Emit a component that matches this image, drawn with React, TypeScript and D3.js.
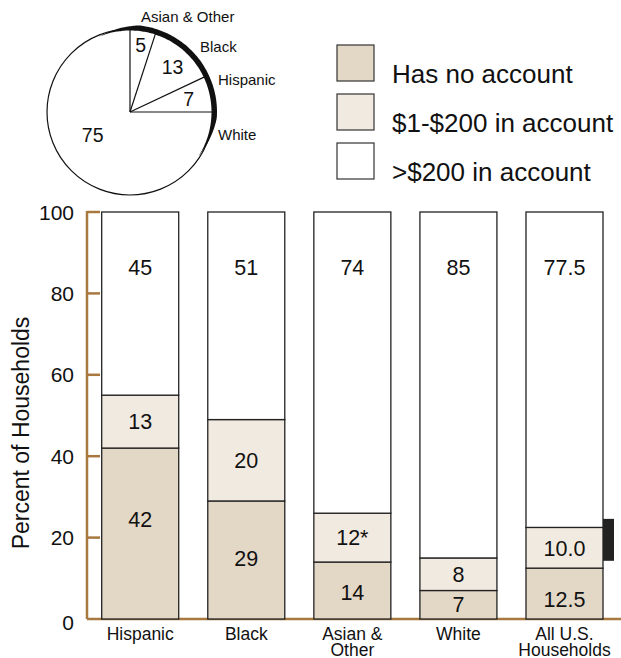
import * as d3 from "d3";
import { useEffect, useRef } from "react";

// bar chart data
const groups = ["Hispanic", "Black", "Asian & Other", "White", "All U.S. Households"];
const groupLines = [["Hispanic"], ["Black"], ["Asian &", "Other"], ["White"], ["All U.S.", "Households"]];
const noAccount = [42, 29, 14, 7, 12.5];
const lowBalance = [13, 20, 12, 8, 10.0];
const highBalance = [45, 51, 74, 85, 77.5];
const noAccountText = ["42", "29", "14", "7", "12.5"];
const lowBalanceText = ["13", "20", "12*", "8", "10.0"];
const highBalanceText = ["45", "51", "74", "85", "77.5"];
const noAccountLabelAt = [24.5, 15, 6.5, 3.5, 4.8];
const highLabelAt = 86.5;
const yTicks = [0, 20, 40, 60, 80, 100];
const allUsRange = [14.3, 24.6];

const seriesKeys = ["none", "low", "high"];
const seriesNames = ["Has no account", "$1-$200 in account", ">$200 in account"];
const seriesColors = ["#e3d7c6", "#f1eae0", "#ffffff"];

// pie data
const pieGroups = ["Asian & Other", "Black", "Hispanic", "White"];
const pieShares = [5, 13, 7, 75];

const W = 621;
const H = 658;
const FONT = "'Liberation Sans', Arial, Helvetica, sans-serif";
const BROWN = "#a8783f";

export default function App() {
  const svgRef = useRef<SVGSVGElement | null>(null);

  useEffect(() => {
    const svg = d3.select(svgRef.current);
    svg.selectAll("*").remove();
    svg.style("font-family", FONT);

    // ---------- pie ----------
    const cx = 130;
    const cy = 112;
    const r = 83;
    const pg = svg.append("g").attr("transform", `translate(${cx},${cy})`);

    const pie = d3.pie<number>().sort(null).value((d) => d);
    const arcs = pie(pieShares);

    // shadow crescent on the upper right
    const a0 = (-22 * Math.PI) / 180;
    const a1 = (122 * Math.PI) / 180;
    const ramp = (28 * Math.PI) / 180;
    const angles = d3.range(a0, a1 + 0.001, (a1 - a0) / 80);
    const thick = (a: number) => 5.5 * Math.min(1, (a - a0) / ramp, (a1 - a) / ramp);
    const crescent = d3
      .areaRadial<number>()
      .angle((a) => a)
      .innerRadius(r - 1.5)
      .outerRadius((a) => r - 1.5 + Math.max(0.3, thick(a)))
      .curve(d3.curveCatmullRom);

    pg.append("circle").attr("r", r).attr("fill", "#fff").attr("stroke", "#111").attr("stroke-width", 1.2);
    pg.append("path").attr("d", crescent(angles)).attr("fill", "#111");

    pg.selectAll("line.spoke")
      .data(arcs)
      .join("line")
      .attr("class", "spoke")
      .attr("x1", 0)
      .attr("y1", 0)
      .attr("x2", (d) => r * Math.sin(d.startAngle))
      .attr("y2", (d) => -r * Math.cos(d.startAngle))
      .attr("stroke", "#111")
      .attr("stroke-width", 1.2);

    // [radius, angle offset in degrees] for the numbers inside slices
    const innerPlace = [[68, 0], [62, 2], [60, 0], [44, 13]];
    pg.selectAll("text.share")
      .data(arcs)
      .join("text")
      .attr("class", "share")
      .attr("text-anchor", "middle")
      .attr("dy", "0.36em")
      .attr("font-size", 19.5)
      .attr("fill", "#111")
      .attr("x", (d, i) => {
        const a = (d.startAngle + d.endAngle) / 2 + (innerPlace[i][1] * Math.PI) / 180;
        return innerPlace[i][0] * Math.sin(a);
      })
      .attr("y", (d, i) => {
        const a = (d.startAngle + d.endAngle) / 2 + (innerPlace[i][1] * Math.PI) / 180;
        return -innerPlace[i][0] * Math.cos(a);
      })
      .text((d) => String(d.data));

    const outerPlace = [[11, -90], [70, -60], [88, -27], [88, 28]];
    pg.selectAll("text.group")
      .data(pieGroups)
      .join("text")
      .attr("class", "group")
      .attr("font-size", 15)
      .attr("fill", "#111")
      .attr("x", (d, i) => outerPlace[i][0])
      .attr("y", (d, i) => outerPlace[i][1])
      .text((d) => d);

    // ---------- legend ----------
    const lg = svg.append("g").attr("transform", "translate(337,45)");
    const item = lg
      .selectAll("g")
      .data(seriesNames)
      .join("g")
      .attr("transform", (d, i) => `translate(0,${i * 49})`);
    item
      .append("rect")
      .attr("width", 37)
      .attr("height", 36)
      .attr("fill", (d, i) => seriesColors[i])
      .attr("stroke", "#333")
      .attr("stroke-width", 1.2);
    item
      .append("text")
      .attr("x", 55)
      .attr("y", 38)
      .attr("font-size", 26)
      .attr("fill", "#111")
      .text((d) => d);

    // ---------- bars ----------
    const x = d3.scaleBand<string>().domain(groups).range([101.7, 603]).paddingInner(0.274).paddingOuter(0);
    const y = d3.scaleLinear().domain([0, 100]).range([619, 212]);

    const rows = groups.map((g, i) => ({
      group: g,
      none: noAccount[i],
      low: lowBalance[i],
      high: highBalance[i],
    }));
    const stacked = d3.stack<any>().keys(seriesKeys)(rows);

    // axis
    const ax = svg.append("g");
    ax.append("line")
      .attr("x1", 87)
      .attr("x2", W)
      .attr("y1", y(0))
      .attr("y2", y(0))
      .attr("stroke", BROWN)
      .attr("stroke-width", 2.5);
    ax.append("line")
      .attr("x1", 87)
      .attr("x2", 87)
      .attr("y1", y(100) - 1)
      .attr("y2", y(0))
      .attr("stroke", BROWN)
      .attr("stroke-width", 2.5);
    ax.selectAll("line.tick")
      .data(yTicks.filter((t) => t > 0))
      .join("line")
      .attr("class", "tick")
      .attr("x1", 87)
      .attr("x2", 100)
      .attr("y1", (d) => y(d))
      .attr("y2", (d) => y(d))
      .attr("stroke", BROWN)
      .attr("stroke-width", 2.5);
    ax.selectAll("text.tl")
      .data(yTicks)
      .join("text")
      .attr("class", "tl")
      .attr("x", 74)
      .attr("y", (d) => y(d) + (d === 0 ? 3 : 0))
      .attr("dy", "0.36em")
      .attr("text-anchor", "end")
      .attr("font-size", 21)
      .attr("fill", "#111")
      .text((d) => String(d));

    svg
      .append("text")
      .attr("transform", "translate(28.5,433) rotate(-90)")
      .attr("text-anchor", "middle")
      .attr("font-size", 23)
      .attr("fill", "#111")
      .text("Percent of Households");

    const bars = svg.append("g");
    stacked.forEach((layer, si) => {
      bars
        .append("g")
        .selectAll("rect")
        .data(layer)
        .join("rect")
        .attr("x", (d: any) => x(d.data.group)!)
        .attr("width", x.bandwidth())
        .attr("y", (d) => y(d[1]))
        .attr("height", (d) => y(d[0]) - y(d[1]))
        .attr("fill", seriesColors[si])
        .attr("stroke", "#222")
        .attr("stroke-width", 1.3);
    });

    const texts = [noAccountText, lowBalanceText, highBalanceText];
    stacked.forEach((layer, si) => {
      bars
        .append("g")
        .selectAll("text")
        .data(layer)
        .join("text")
        .attr("x", (d: any) => x(d.data.group)! + x.bandwidth() / 2)
        .attr("y", (d, i) => {
          if (si === 0) return y(noAccountLabelAt[i]);
          if (si === 2) return y(highLabelAt);
          return y((d[0] + d[1]) / 2);
        })
        .attr("dy", "0.36em")
        .attr("text-anchor", "middle")
        .attr("font-size", 21.5)
        .attr("fill", "#111")
        .text((d, i) => texts[si][i]);
    });

    // range marker beside the All U.S. bar
    const last = groups[groups.length - 1];
    svg
      .append("rect")
      .attr("x", x(last)! + x.bandwidth())
      .attr("width", 11)
      .attr("y", y(allUsRange[1]))
      .attr("height", y(allUsRange[0]) - y(allUsRange[1]))
      .attr("fill", "#222");

    // category labels
    const cat = svg
      .append("g")
      .selectAll("text")
      .data(groups)
      .join("text")
      .attr("text-anchor", "middle")
      .attr("font-size", 17.5)
      .attr("fill", "#111");
    cat
      .selectAll("tspan")
      .data((d, i) => groupLines[i].map((line) => ({ line, g: d })))
      .join("tspan")
      .attr("x", (d) => x(d.g)! + x.bandwidth() / 2)
      .attr("y", (d, j) => 640 + j * 16)
      .text((d) => d.line);
  }, []);

  return (
    <svg
      ref={svgRef}
      width={W}
      height={H}
      style={{ position: "absolute", left: 0, top: 0, background: "#fff" }}
    />
  );
}
